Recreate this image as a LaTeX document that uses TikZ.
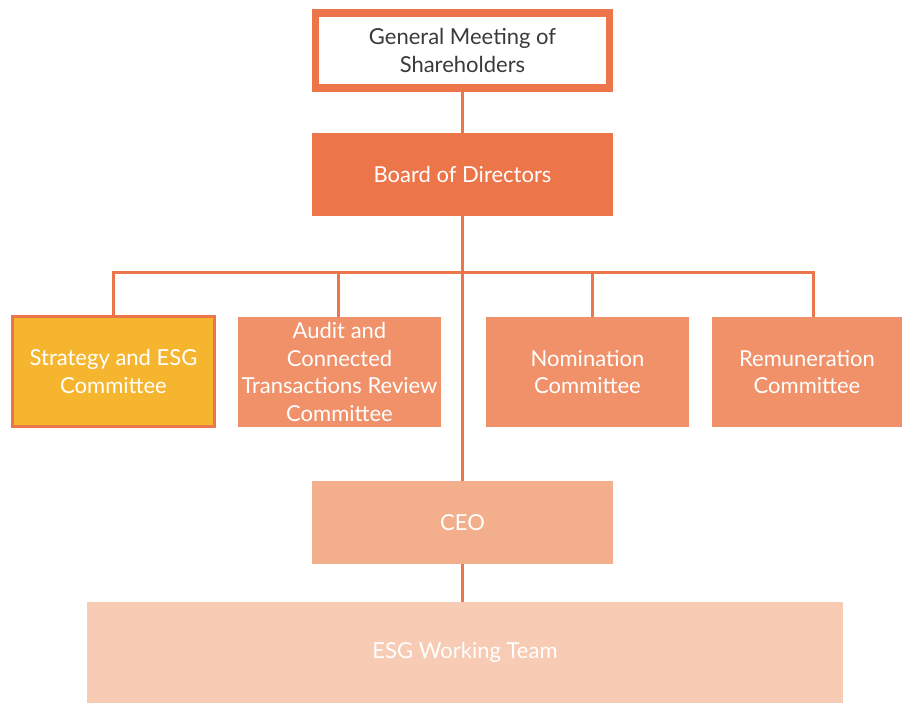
\documentclass[tikz,border=0pt]{standalone}
\usepackage{fontspec}
\setmainfont{Lato}
\definecolor{orgline}{HTML}{EC7549}
\definecolor{orgboard}{HTML}{EC7549}
\definecolor{orgcom}{HTML}{F0916A}
\definecolor{orgesg}{HTML}{F6B52E}
\definecolor{orgceo}{HTML}{F3AE8C}
\definecolor{orgteam}{HTML}{F7CBB4}
\definecolor{orgtext}{HTML}{3A3A3A}

\begin{document}
\begin{tikzpicture}[x=1pt, y=-1pt, align=center, font=\fontsize{22}{27.5}\selectfont]
\tikzstyle{gm} = [draw=orgline, line width=7.5pt, fill=white, text=orgtext, inner sep=0pt, minimum width=294pt, minimum height=75pt]
\tikzstyle{bd} = [fill=orgboard, text=white, inner sep=0pt, minimum width=301pt, minimum height=83pt]
\tikzstyle{com} = [fill=orgcom, text=white, inner sep=0pt, minimum width=203pt, minimum height=110pt]
\tikzstyle{sg} = [draw=orgline, line width=3pt, fill=orgesg, text=white, inner sep=0pt, minimum width=202pt, minimum height=110pt]
\tikzstyle{ceo} = [fill=orgceo, text=white, inner sep=0pt, minimum width=301pt, minimum height=83pt]
\tikzstyle{team} = [fill=orgteam, text=white, inner sep=0pt, minimum width=756pt, minimum height=101pt]
\tikzstyle{e} = [draw=orgline, line width=3pt]

\useasboundingbox (0,0) rectangle (902,703);

\node[gm] (GM) at (462.5, 50.5) {General Meeting of\\Shareholders};
\node[bd] (BD) at (462.5, 174.5) {Board of Directors};
\node[sg] (SG) at (113.5, 371.5) {Strategy and ESG\\Committee};
\node[com] (AU) at (339.5, 372) {Audit and\\Connected\\Transactions Review\\Committee};
\node[com] (NO) at (587.5, 372) {Nomination\\Committee};
\node[com, minimum width=190pt] (RE) at (807, 372) {Remuneration\\Committee};
\node[ceo] (CEO) at (462.5, 522.5) {CEO};
\node[team] (TEAM) at (465, 652.5) {ESG Working Team};

\coordinate (B1) at (113.5, 273);
\coordinate (B2) at (338, 273);
\coordinate (B3) at (592, 273);
\coordinate (B4) at (813, 273);

\draw[e] (GM) to (BD);
\draw[e] (BD) to (CEO);
\draw[e] (CEO.south) to (CEO.south |- TEAM.north);
\draw[e] (SG.north) |- (B4) -- (B4 |- RE.north);
\draw[e] (B2) to (B2 |- AU.north);
\draw[e] (B3) to (B3 |- NO.north);
\end{tikzpicture}
\end{document}
